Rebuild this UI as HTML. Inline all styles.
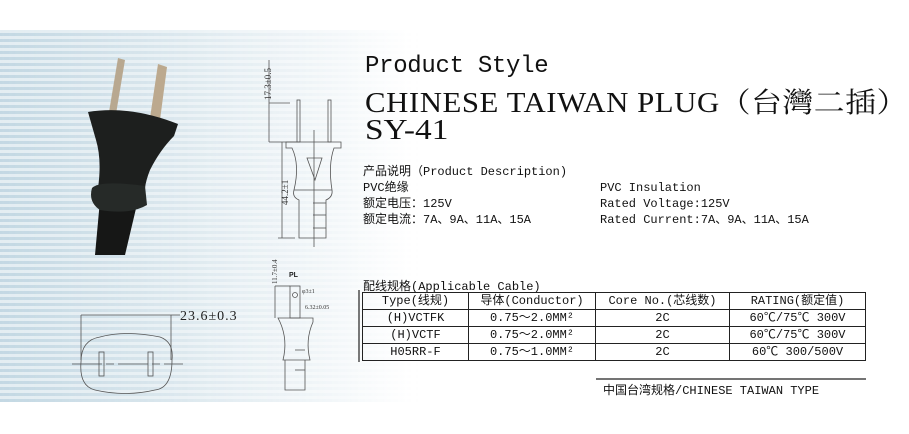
<!DOCTYPE html>
<html><head><meta charset="utf-8"><style>
body{margin:0;width:909px;height:434px;overflow:hidden;background:#fff;position:relative;font-family:"Liberation Mono","Noto Sans CJK SC",monospace;color:#111}
.bg{position:absolute;left:0;top:30px;width:909px;height:372px;background:linear-gradient(90deg,#c9dce6 0%,#dde9ef 15%,#eef4f7 28%,#fff 45%)}
.bg2{position:absolute;left:0;top:30px;width:420px;height:372px;background:repeating-linear-gradient(180deg,rgba(255,255,255,.5) 0 3px,rgba(180,205,220,.25) 3px 6px);-webkit-mask-image:linear-gradient(90deg,#000,transparent);}
.t{position:absolute;white-space:nowrap}
.serif{font-family:"Liberation Serif","Noto Serif CJK SC",serif}
table{position:absolute;left:362px;top:292px;border-collapse:collapse;font-size:12px;font-family:"Liberation Mono","Noto Sans CJK SC",monospace}
td{border:1.5px solid #222;height:16px;padding:0;text-align:center;line-height:16px}
</style></head><body>
<div class="bg"></div><div class="bg2"></div>
<svg style="position:absolute;left:0;top:0" width="909" height="434">
 <g>
  <path d="M118 58 L125 60 L116 114 L109 112Z" fill="#b8a890"/>
  <path d="M158 64 L167 67 L160 120 L150 118Z" fill="#bca98e"/>
  <path d="M95 255 L100 200 L138 200 L125 255Z" fill="#161716"/>
  <path d="M88 112 Q130 105 178 124 L174 136 Q160 150 150 170 Q146 180 145 188 L98 188 Q102 160 96 140 Z" fill="#1d1f1e"/>
  <path d="M92 188 Q100 180 145 186 L147 205 Q130 215 100 210 Q88 202 92 188Z" fill="#262a28"/>
 </g>
 <g fill="none" stroke="#555" stroke-width="0.8">
  <line x1="269" y1="103" x2="290" y2="103"/><line x1="269" y1="142" x2="300" y2="142"/><line x1="269" y1="60" x2="269" y2="142"/>
  <line x1="282" y1="142" x2="282" y2="238"/><line x1="278" y1="238" x2="295" y2="238"/>
  <rect x="297" y="100" width="3" height="42"/><rect x="328" y="100" width="3" height="42"/>
  <path d="M286 142 H341 V148 H334 Q328 165 332 190 H294 Q300 165 292 148 H286Z"/>
  <path d="M307 158 H322 L315 180Z"/>
  <path d="M294 190 Q292 197 299 200 V238 H326 V200 Q333 197 332 190"/>
  <line x1="313" y1="203" x2="326" y2="203"/><line x1="313" y1="215" x2="326" y2="215"/><line x1="313" y1="228" x2="326" y2="228"/>
  <line x1="314" y1="130" x2="314" y2="247"/>
  <line x1="275" y1="286" x2="275" y2="318"/><line x1="275" y1="286" x2="290" y2="286"/>
  <rect x="290" y="286" width="10" height="32"/><circle cx="295" cy="295" r="2.5"/>
  <path d="M278 318 H313 V322 Q305 340 310 360 H283 Q288 340 280 322Z"/>
  <path d="M285 360 V390 H305 V360"/>
  <line x1="295" y1="350" x2="305" y2="350"/><line x1="295" y1="370" x2="305" y2="370"/>
  <line x1="81" y1="315" x2="81" y2="360"/><line x1="171" y1="315" x2="171" y2="360"/>
  <line x1="81" y1="315" x2="171" y2="315"/><line x1="171" y1="315" x2="180" y2="315"/>
  <path d="M100 337 Q125 330 160 337 Q174 342 172 360 Q172 388 155 390 Q125 397 95 390 Q79 386 81 362 Q81 340 100 337Z"/>
  <line x1="72" y1="364" x2="183" y2="364" stroke-dasharray="30,4,8,4"/>
  <rect x="99" y="352" width="5" height="24"/><rect x="148" y="352" width="5" height="24"/>
 </g>
 <line x1="596" y1="379" x2="866" y2="379" stroke="#222" stroke-width="1.2"/>
 <line x1="359" y1="290" x2="359" y2="362" stroke="#222" stroke-width="1.2"/>
 <text x="0" y="0" font-size="9" fill="#333" font-family="Liberation Serif" transform="translate(271,100) rotate(-90)">17.3±0.5</text>
 <text x="0" y="0" font-size="9" fill="#333" font-family="Liberation Serif" transform="translate(288,205) rotate(-90)">44.2±1</text>
 <text x="0" y="0" font-size="7" fill="#333" font-family="Liberation Serif" transform="translate(277,284) rotate(-90)">11.7±0.4</text>
 <text x="289" y="277" font-size="7" font-weight="bold" font-family="Liberation Sans" fill="#222">PL</text>
 <text x="302" y="293" font-size="6" fill="#333" font-family="Liberation Serif">φ3±1</text>
 <text x="305" y="309" font-size="6" fill="#333" font-family="Liberation Serif">6.32±0.05</text>
 <text x="180" y="320" font-size="14" fill="#222" font-family="Liberation Serif" letter-spacing="1">23.6±0.3</text>
</svg>
<div class="t" style="left:365px;top:53px;font-size:24px;font-family:'Liberation Mono',monospace;letter-spacing:-0.3px">Product Style</div>
<div class="t serif" style="left:365px;top:81px;font-size:28px;transform:scaleX(1.1);transform-origin:left;letter-spacing:0.5px">CHINESE TAIWAN PLUG（台灣二插）</div>
<div class="t serif" style="left:365px;top:114px;font-size:29px;transform:scaleX(1.15);transform-origin:left">SY-41</div>
<div class="t" style="left:363px;top:164px;font-size:12px;line-height:16px">产品说明（Product Description)<br>PVC绝缘<br>额定电压：125V<br>额定电流：7A、9A、11A、15A</div>
<div class="t" style="left:600px;top:180px;font-size:12px;line-height:16px">PVC Insulation<br>Rated Voltage:125V<br>Rated Current:7A、9A、11A、15A</div>
<div class="t" style="left:363px;top:277px;font-size:12px">配线规格(Applicable Cable)</div>
<table>
<tr><td style="width:105px">Type(线规)</td><td style="width:126px">导体(Conductor)</td><td style="width:133px">Core No.(芯线数)</td><td style="width:135px">RATING(额定值)</td></tr>
<tr><td>(H)VCTFK</td><td>0.75～2.0MM²</td><td>2C</td><td>60℃/75℃ 300V</td></tr>
<tr><td>(H)VCTF</td><td>0.75～2.0MM²</td><td>2C</td><td>60℃/75℃ 300V</td></tr>
<tr><td>H05RR-F</td><td>0.75～1.0MM²</td><td>2C</td><td>60℃ 300/500V</td></tr>
</table>
<div class="t" style="left:603px;top:381px;font-size:12px">中国台湾规格/CHINESE TAIWAN TYPE</div>
</body></html>
